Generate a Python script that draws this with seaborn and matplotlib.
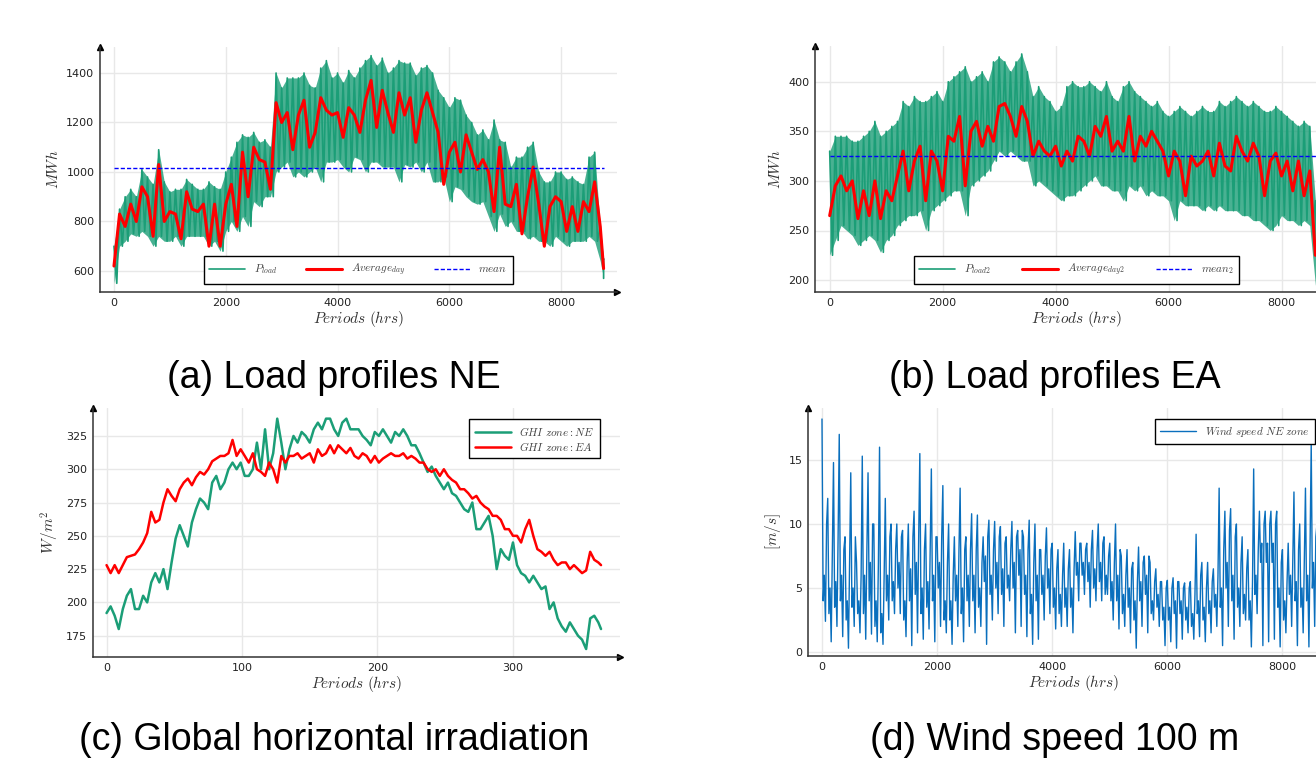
import numpy as np
import pandas as pd
import matplotlib
matplotlib.use('Agg')
import matplotlib.pyplot as plt
import seaborn as sns

# ---------------- data ----------------
# load / wind series: one reading every 100 h plus the final hour
hours = list(range(0, 8800, 100)) + [8760]

ne_load_high = [700, 850, 900, 930, 900, 1010, 980, 950, 1090, 960,
                920, 930, 930, 970, 950, 930, 930, 960, 940, 930,
                1000, 1060, 1120, 1150, 1140, 1160, 1120, 1130, 1100, 1400,
                1340, 1380, 1380, 1380, 1400, 1350, 1340, 1420, 1450, 1380,
                1400, 1360, 1410, 1380, 1420, 1450, 1470, 1430, 1460, 1400,
                1420, 1450, 1440, 1440, 1390, 1420, 1430, 1400, 1330, 1300,
                1260, 1300, 1290, 1230, 1200, 1150, 1170, 1130, 1210, 1130,
                1120, 1020, 1060, 1060, 1100, 1120, 1000, 960, 960, 1000,
                1000, 970, 980, 960, 950, 1060, 1080, 780, 650]
ne_load_low = [550, 700, 720, 750, 740, 760, 740, 700, 740, 720,
               720, 740, 700, 740, 740, 740, 740, 700, 720, 680,
               760, 800, 760, 820, 780, 880, 860, 900, 900, 1000,
               1020, 1040, 980, 1000, 980, 1000, 1020, 960, 1040, 1040,
               1050, 1020, 1000, 1060, 1050, 1000, 1040, 1040, 1020, 1020,
               1020, 960, 1030, 1020, 1040, 1000, 1040, 960, 960, 980,
               880, 940, 930, 900, 880, 870, 880, 820, 760, 830,
               780, 800, 760, 760, 730, 740, 720, 720, 700, 740,
               720, 700, 720, 720, 720, 740, 720, 640, 570]
ne_day_avg = [620, 830, 780, 870, 800, 940, 900, 740, 1030, 800,
              840, 830, 730, 920, 850, 840, 870, 700, 870, 700,
              870, 950, 780, 1080, 900, 1100, 1050, 1040, 930, 1280,
              1200, 1240, 1090, 1230, 1290, 1100, 1160, 1300, 1250, 1230,
              1240, 1140, 1260, 1230, 1160, 1290, 1370, 1180, 1330, 1240,
              1160, 1320, 1230, 1300, 1120, 1250, 1320, 1240, 1160, 950,
              1080, 1120, 1000, 1150, 1080, 1010, 1050, 1000, 840, 1100,
              870, 860, 950, 750, 900, 1020, 870, 700, 860, 900,
              880, 760, 860, 760, 880, 840, 960, 780, 610]
ne_mean = 1018

ea_load_high = [330, 345, 345, 345, 340, 340, 345, 350, 360, 345,
                350, 355, 360, 380, 375, 385, 380, 380, 385, 390,
                380, 400, 405, 410, 415, 400, 405, 410, 400, 420,
                425, 420, 410, 420, 428, 410, 385, 395, 385, 380,
                370, 375, 395, 400, 395, 395, 400, 395, 390, 400,
                385, 380, 395, 400, 390, 385, 380, 375, 380, 370,
                365, 370, 375, 370, 365, 370, 375, 370, 370, 380,
                375, 380, 385, 380, 375, 380, 375, 370, 370, 375,
                370, 365, 360, 355, 360, 355, 280, 300, 290]
ea_load_low = [225, 240, 255, 250, 245, 235, 240, 245, 240, 228,
               240, 245, 255, 260, 265, 265, 270, 250, 270, 275,
               280, 285, 290, 290, 265, 295, 300, 305, 310, 320,
               330, 325, 330, 325, 320, 320, 295, 300, 295, 290,
               285, 280, 285, 285, 290, 295, 300, 305, 295, 295,
               290, 290, 280, 295, 290, 295, 285, 290, 285, 285,
               280, 260, 280, 275, 275, 275, 270, 275, 270, 275,
               270, 270, 270, 265, 265, 260, 260, 255, 250, 255,
               265, 260, 260, 255, 260, 255, 195, 220, 230]
ea_day_avg = [265, 295, 305, 290, 300, 262, 290, 265, 300, 262,
              290, 280, 305, 330, 290, 320, 335, 280, 330, 320,
              290, 345, 340, 365, 295, 350, 360, 335, 355, 340,
              375, 378, 365, 345, 375, 360, 325, 340, 330, 325,
              335, 315, 330, 320, 345, 340, 325, 355, 345, 365,
              330, 340, 330, 365, 320, 345, 335, 350, 340, 330,
              305, 330, 320, 285, 325, 315, 320, 330, 305, 338,
              315, 310, 345, 330, 320, 338, 325, 285, 320, 328,
              305, 320, 290, 320, 285, 310, 225, 260, 260]
ea_mean = 325

wind_high = [18.2, 12, 14.8, 17, 9, 14, 7, 15.3, 14, 10,
             16, 12, 10, 10, 9.5, 10, 11, 15.5, 10, 14.3,
             9, 13, 10, 9, 12.8, 9, 10.8, 10.7, 9, 10.3,
             10.2, 9.8, 9, 10.2, 9.5, 9, 10.3, 10, 8, 9.7,
             8.5, 8, 8.5, 8, 9.4, 8.5, 8.5, 9.5, 10, 9,
             8.5, 10, 7.5, 8, 7, 8.2, 7.5, 7, 6.5, 5.5,
             5.6, 5.8, 5.5, 5.4, 5.5, 9.2, 7, 7, 6.5, 12.8,
             11, 11.2, 10, 9, 8, 14.3, 11, 11, 11, 11,
             8, 8.5, 12.5, 10, 12.8, 16.3, 10, 9, 9]
wind_upper = [10, 8, 9, 8, 7, 9, 6, 8, 10, 7,
              6, 9, 8, 9, 7, 9, 9, 8, 8, 9,
              9, 7, 6, 8, 8, 8, 8, 7, 9, 8,
              9, 8.5, 8, 9, 9.5, 8, 7, 8, 7.5, 8,
              6.5, 6, 6.5, 6.5, 8.5, 8, 8, 8, 8.5, 7.5,
              7, 8, 6, 6.5, 5.5, 7, 7.5, 5.5, 5.5, 5,
              5, 5.5, 5, 5, 4.5, 6, 5, 5.5, 6, 8,
              9.5, 9, 7, 6.5, 5.5, 8, 10, 10, 10, 7,
              5.5, 7.5, 8, 7, 8, 9, 7, 7, 8]
wind_mid = [6, 5, 5.5, 6, 4, 5, 4, 6, 7, 4,
            3, 6, 5.5, 7, 4, 6.5, 7, 5, 5.5, 6,
            7, 4, 4, 6, 5, 6, 6, 5, 7.5, 6,
            7, 6.5, 6, 7, 8, 6, 4.5, 6, 6, 6.5,
            5, 4.5, 5, 5, 7, 7, 7, 6.5, 7, 6,
            5.5, 6, 4.5, 5, 4, 5.5, 6, 4, 4.5, 3.5,
            3.5, 4, 4, 3.5, 3, 4, 3.5, 4, 4.5, 5,
            7, 6, 5, 4.5, 4, 6, 8.5, 8.5, 8.5, 5,
            4, 6, 5.5, 5, 6, 7, 5, 5, 6]
wind_lower = [4, 3, 3.5, 4, 2.5, 3.5, 3, 3, 4, 2,
              1.5, 4, 4, 5, 2.5, 4, 4.5, 3, 3.5, 4,
              5, 2.5, 2.5, 4, 3, 4, 4, 3.5, 5.5, 4.5,
              5, 4.5, 5, 5, 6, 4.5, 3, 4, 4.5, 5,
              3.5, 3, 3.5, 3.5, 6, 6, 5.5, 5, 5.5, 4.5,
              4, 4, 3, 3.5, 2.5, 4, 4.5, 3, 3.5, 2.5,
              2.5, 3, 3, 2.5, 2, 3, 2.5, 3, 3.5, 3.5,
              5, 4, 3.5, 3, 2.5, 4.5, 7, 7, 7, 3.5,
              2.5, 4.5, 4, 3.5, 4, 5, 3.5, 3.5, 4.5]
wind_low = [2.4, 0.8, 2, 1.2, 0.3, 2, 1.5, 1, 1.4, 0.8,
            0.6, 2.5, 3, 3, 1.2, 0.5, 1.5, 1, 1.8, 0.8,
            2, 1.5, 0.6, 2, 0.8, 2, 1.5, 2, 0.6, 2.5,
            3, 2, 4, 1.5, 2, 1.2, 0.6, 1, 2.5, 3,
            1.8, 2, 2, 1.5, 4, 4.5, 3.5, 4, 4, 4.5,
            2.5, 1.8, 2, 1.5, 0.3, 2, 1.5, 2.5, 2, 0.5,
            0.8, 0.3, 1, 1.5, 1, 1.2, 0.8, 1.5, 2, 0.5,
            2, 1, 2, 2.5, 0.4, 3, 0.5, 0.8, 1, 0.4,
            1.5, 2, 0.5, 1.5, 0.4, 2, 0.3, 0.5, 3]

# GHI: one reading every 3 days plus the last day
days = list(range(0, 364, 3)) + [365]
ghi_ne = [192, 197, 190, 180, 195, 205, 210, 195, 195, 205,
          200, 215, 222, 215, 225, 210, 230, 248, 258, 250,
          242, 260, 270, 278, 275, 270, 290, 295, 285, 290,
          300, 305, 300, 305, 295, 295, 300, 320, 300, 330,
          300, 312, 338, 320, 300, 315, 325, 320, 328, 325,
          320, 330, 335, 330, 338, 338, 330, 325, 335, 338,
          330, 330, 330, 325, 322, 318, 328, 325, 330, 325,
          320, 328, 325, 330, 325, 318, 318, 312, 305, 298,
          302, 295, 290, 285, 290, 282, 280, 275, 270, 268,
          275, 255, 255, 260, 265, 250, 225, 240, 235, 232,
          245, 228, 222, 220, 215, 220, 215, 210, 212, 195,
          200, 188, 182, 178, 185, 180, 175, 172, 165, 188,
          190, 185, 180]
ghi_ea = [228, 222, 228, 222, 228, 234, 235, 236, 240, 245,
          252, 268, 260, 262, 275, 285, 280, 276, 285, 290,
          293, 288, 294, 298, 296, 300, 306, 308, 310, 310,
          312, 322, 310, 315, 310, 305, 312, 300, 298, 295,
          305, 300, 290, 310, 305, 310, 310, 312, 308, 310,
          312, 305, 315, 310, 312, 318, 312, 318, 315, 312,
          316, 310, 308, 312, 310, 305, 310, 305, 308, 310,
          312, 310, 310, 312, 308, 310, 308, 305, 305, 300,
          298, 300, 295, 300, 295, 292, 290, 285, 285, 282,
          278, 280, 275, 272, 270, 265, 265, 262, 255, 255,
          250, 250, 245, 255, 262, 250, 240, 238, 235, 238,
          232, 228, 230, 230, 225, 228, 225, 222, 224, 238,
          232, 230, 228]

# ---------------- helpers ----------------
def band_frame(xs, series, offsets, end=8760):
    rows = []
    for vals, off in zip(series, offsets):
        for x, v in zip(xs, vals):
            rows.append((min(x + off, end), v))
    df = pd.DataFrame(rows, columns=['hour', 'value'])
    return df.sort_values('hour', kind='stable').reset_index(drop=True)

sns.set_theme(style='white')
plt.rcParams['font.family'] = ['DejaVu Sans']
plt.rcParams['mathtext.fontset'] = 'cm'

W, H = 1316, 758
fig = plt.figure(figsize=(W / 100, H / 100), dpi=100)

def axes_px(left, top, right, bottom):
    return fig.add_axes([left / W, (H - bottom) / H, (right - left) / W, (bottom - top) / H])

GREEN = '#1b9e77'
RED = '#ff0000'
BLUE = '#0000ff'
WIND = '#0a6fbd'
GRID = '#e8e8e8'

def style(ax, xlim, ylim, xticks, yticks, ylabel):
    ax.set_xlim(*xlim)
    ax.set_ylim(*ylim)
    ax.set_xticks(xticks)
    ax.set_yticks(yticks)
    ax.grid(True, color=GRID, lw=1.0)
    ax.set_axisbelow(True)
    for s in ['top', 'right']:
        ax.spines[s].set_visible(False)
    for s in ['left', 'bottom']:
        ax.spines[s].set_color('#333333')
        ax.spines[s].set_linewidth(1.1)
    ax.tick_params(length=0, labelsize=8, colors='#222222', pad=4)
    ax.set_xlabel(r'$Periods\ (hrs)$', fontsize=11, labelpad=1, color='#333333')
    ax.set_ylabel(ylabel, fontsize=11, labelpad=4, color='#333333')
    ax.plot([1], [0], marker='>', color='black', ms=5, transform=ax.transAxes, clip_on=False)
    ax.plot([0], [1], marker='^', color='black', ms=5, transform=ax.transAxes, clip_on=False)

def frame_legend(leg):
    f = leg.get_frame()
    f.set_edgecolor('black')
    f.set_linewidth(1.0)
    f.set_boxstyle('square', pad=0)
    for t in leg.get_texts():
        t.set_color('#444444')

def load_panel(ax, high, low, avg, mean, labels):
    ax.fill_between(hours, low, high, color=GREEN, alpha=0.8, lw=0)
    g = band_frame(hours, [high, low], [0, 50])
    sns.lineplot(data=g, x='hour', y='value', estimator=None, sort=False, color=GREEN, lw=1.2,
                 ax=ax, label=labels[0])
    sns.lineplot(x=hours, y=avg, estimator=None, sort=False, color=RED, lw=2.2, ax=ax, label=labels[1])
    sns.lineplot(x=[0, 8760], y=[mean, mean], estimator=None, color=BLUE, lw=1.0, ls=(0, (3, 1.5)),
                 ax=ax, label=labels[2])

# ---------------- (a) ----------------
ax = axes_px(100, 47, 617, 292)
load_panel(ax, ne_load_high, ne_load_low, ne_day_avg, ne_mean,
           [r'$P_{load}$', r'$Average_{day}$', r'$mean$'])
style(ax, (-250, 9000), (515, 1505), [0, 2000, 4000, 6000, 8000], [600, 800, 1000, 1200, 1400], r'$MWh$')
leg = ax.legend(loc='lower left', bbox_to_anchor=(0.201, 0.033, 0.598, 0.106), mode='expand', ncol=3,
                fontsize=8, handlelength=3.2, borderaxespad=0, fancybox=False, framealpha=1,
                borderpad=0.5, columnspacing=0.5)
frame_legend(leg)

# ---------------- (b) ----------------
ax = axes_px(815, 46, 1338, 292)
load_panel(ax, ea_load_high, ea_load_low, ea_day_avg, ea_mean,
           [r'$P_{load2}$', r'$Average_{day2}$', r'$mean_2$'])
style(ax, (-260, 9000), (188, 436), [0, 2000, 4000, 6000, 8000], [200, 250, 300, 350, 400], r'$MWh$')
leg = ax.legend(loc='lower left', bbox_to_anchor=(0.189, 0.033, 0.622, 0.106), mode='expand', ncol=3,
                fontsize=8, handlelength=3.2, borderaxespad=0, fancybox=False, framealpha=1,
                borderpad=0.5, columnspacing=0.5)
frame_legend(leg)

# ---------------- (c) ----------------
ax = axes_px(93, 408, 620, 657)
sns.lineplot(x=days, y=ghi_ne, estimator=None, sort=False, color=GREEN, lw=1.8, ax=ax,
             label=r'$GHI\ zone:NE$')
sns.lineplot(x=days, y=ghi_ea, estimator=None, sort=False, color=RED, lw=1.8, ax=ax,
             label=r'$GHI\ zone:EA$')
style(ax, (-10, 379), (159, 346), [0, 100, 200, 300], [175, 200, 225, 250, 275, 300, 325], r'$W/m^2$')
leg = ax.legend(loc='upper right', bbox_to_anchor=(0.962, 0.956), fontsize=8, handlelength=3.2,
                borderaxespad=0, fancybox=False, framealpha=1, borderpad=0.5, labelspacing=0.2)
frame_legend(leg)

# ---------------- (d) ----------------
ax = axes_px(808, 408, 1340, 656)
g = band_frame(hours, [wind_high, wind_lower, wind_mid, wind_low, wind_upper], [0, 20, 40, 60, 80])
sns.lineplot(data=g, x='hour', y='value', estimator=None, sort=False, color=WIND, lw=1.0, ax=ax,
             label=r'$Wind\ speed\ NE\ zone$')
style(ax, (-243, 9000), (-0.31, 19.06), [0, 2000, 4000, 6000, 8000], [0, 5, 10, 15], r'$[m/s]$')
leg = ax.legend(loc='upper left', bbox_to_anchor=(0.652, 0.955), fontsize=8, handlelength=3.2,
                borderaxespad=0, fancybox=False, framealpha=1, borderpad=0.5)
frame_legend(leg)

# ---------------- captions ----------------
cap = dict(fontsize=27, family='Liberation Sans', ha='center', va='center', color='black')
fig.text(334 / W, 1 - 378 / H, '(a) Load profiles NE', **cap)
fig.text(1055 / W, 1 - 378 / H, '(b) Load profiles EA', **cap)
fig.text(334 / W, 1 - 740 / H, '(c) Global horizontal irradiation', **cap)
fig.text(1055 / W, 1 - 740 / H, '(d) Wind speed 100 m', **cap)

fig.savefig('out.png', dpi=100)
